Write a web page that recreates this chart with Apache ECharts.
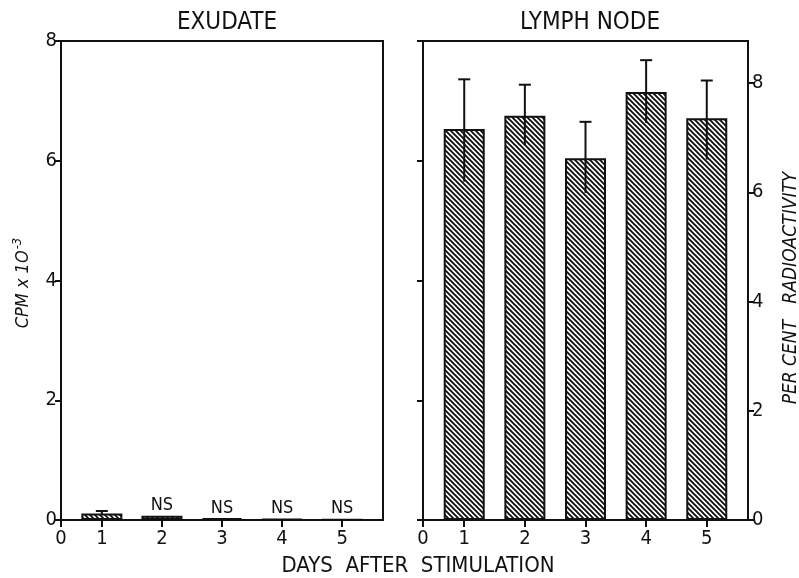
<!DOCTYPE html>
<html>
<head>
<meta charset="utf-8">
<script src="https://cdn.jsdelivr.net/npm/echarts@6/dist/echarts.min.js"></script>
<style>
  html, body { margin: 0; padding: 0; background: #fff; }
  #main { width: 799px; height: 578px; }
</style>
</head>
<body>
<div id="main"></div>
<script>
// data
var days = [1, 2, 3, 4, 5];
var exudateMean = [0.11, 0.07, 0.03, 0.015, 0.01];
var exudateLow = [0.08, null, null, null, null];
var exudateHigh = [0.15, null, null, null, null];
var exudateNote = ['', 'NS', 'NS', 'NS', 'NS'];
var lymphMean = [6.53, 6.75, 6.04, 7.15, 6.71];
var lymphLow = [5.65, 6.26, 5.46, 6.63, 6.02];
var lymphHigh = [7.36, 7.27, 6.65, 7.68, 7.34];
var pctTicks = [0, 2, 4, 6, 8];
var dayTicks = [0.32, 1, 2, 3, 4, 5];

var FONT = "'Liberation Sans Narrow', 'DejaVu Sans Condensed', 'Liberation Sans', sans-serif";

// hatch pattern (\\\\)
var hatch = document.createElement('canvas');
hatch.width = 5; hatch.height = 5;
var hc = hatch.getContext('2d');
hc.fillStyle = '#fff';
hc.fillRect(0, 0, 5, 5);
hc.strokeStyle = '#111';
hc.lineWidth = 1.9;
hc.beginPath();
hc.moveTo(-1, -1); hc.lineTo(6, 6);
hc.moveTo(-1, 4); hc.lineTo(1, 6);
hc.moveTo(4, -1); hc.lineTo(6, 1);
hc.stroke();

var myChart = echarts.init(document.getElementById('main'));

// vertical error bar with a cap on top only
function errItem(params, api) {
  var lo = api.value(1), hi = api.value(2);
  if (lo == null || isNaN(lo)) return null;
  var p1 = api.coord([api.value(0), lo]);
  var p2 = api.coord([api.value(0), hi]);
  var st = { stroke: '#111', lineWidth: 2 };
  return {
    type: 'group',
    children: [
      { type: 'line', shape: { x1: p1[0], y1: p1[1], x2: p2[0], y2: p2[1] }, style: st },
      { type: 'line', shape: { x1: p2[0] - 6, y1: p2[1], x2: p2[0] + 6, y2: p2[1] }, style: st }
    ]
  };
}

function xAxisFor(idx) {
  return {
    type: 'value', gridIndex: idx, min: 0.32, max: 5.68,
    axisLine: { show: true, onZero: false, lineStyle: { color: '#111', width: 2 } },
    axisTick: { show: true, customValues: dayTicks, length: 7, lineStyle: { color: '#111', width: 2 } },
    axisLabel: {
      customValues: dayTicks, color: '#111', fontSize: 20, fontFamily: FONT, margin: 9,
      formatter: function (v) { return v < 0.5 ? '0' : String(Math.round(v)); }
    },
    splitLine: { show: false }
  };
}

var exErr = days.map(function (d, i) { return [d, exudateLow[i], exudateHigh[i]]; })
  .filter(function (r) { return r[1] != null; });
var lyErr = days.map(function (d, i) { return [d, lymphLow[i], lymphHigh[i]]; });

var option = {
  backgroundColor: '#fff',
  animation: false,
  title: [
    { text: 'EXUDATE', left: 222, top: 6, textAlign: 'center',
      textStyle: { fontFamily: FONT, fontSize: 24, fontWeight: 'normal', color: '#111' } },
    { text: 'LYMPH NODE', left: 585, top: 6, textAlign: 'center',
      textStyle: { fontFamily: FONT, fontSize: 24, fontWeight: 'normal', color: '#111' } }
  ],
  grid: [
    { left: 61, top: 41, width: 322, height: 479, show: true, borderColor: '#111', borderWidth: 2 },
    { left: 423, top: 41, width: 325, height: 479, show: true, borderColor: '#111', borderWidth: 2 }
  ],
  xAxis: [xAxisFor(0), xAxisFor(1)],
  yAxis: [
    {
      type: 'value', gridIndex: 0, min: 0, max: 8, interval: 2,
      axisLine: { show: true, lineStyle: { color: '#111', width: 2 } },
      axisTick: { show: true, length: 6, lineStyle: { color: '#111', width: 2 } },
      axisLabel: { color: '#111', fontSize: 20, fontFamily: FONT, margin: 4 },
      splitLine: { show: false }
    },
    {
      type: 'value', gridIndex: 1, min: 0, max: 8, interval: 2,
      axisLine: { show: true, lineStyle: { color: '#111', width: 2 } },
      axisTick: { show: true, length: 6, lineStyle: { color: '#111', width: 2 } },
      axisLabel: { show: false },
      splitLine: { show: false }
    },
    {
      type: 'value', gridIndex: 1, position: 'right', min: 0, max: 8.77,
      axisLine: { show: true, lineStyle: { color: '#111', width: 2 } },
      axisTick: { show: true, customValues: pctTicks, length: 6, lineStyle: { color: '#111', width: 2 } },
      axisLabel: { customValues: pctTicks, color: '#111', fontSize: 20, fontFamily: FONT, margin: 4 },
      splitLine: { show: false }
    }
  ],
  graphic: [
    {
      type: 'text', x: 23, y: 283, rotation: Math.PI / 2,
      style: {
        text: '{a|CPM x 1O}{s|-3}', align: 'center', verticalAlign: 'middle',
        rich: {
          a: { fontFamily: FONT, fontSize: 18, fontStyle: 'italic', fill: '#111' },
          s: { fontFamily: FONT, fontSize: 13, fontStyle: 'italic', fill: '#111', padding: [0, 0, 10, 1] }
        }
      }
    },
    {
      type: 'text', x: 791, y: 288, rotation: Math.PI / 2,
      style: {
        text: 'PER CENT   RADIOACTIVITY', align: 'center', verticalAlign: 'middle',
        font: 'italic 19px ' + FONT, fill: '#111'
      }
    },
    {
      type: 'text', x: 418, y: 566,
      style: {
        text: 'DAYS  AFTER  STIMULATION', align: 'center', verticalAlign: 'middle',
        font: '22px ' + FONT, fill: '#111'
      }
    }
  ],
  series: [
    {
      name: 'Exudate', type: 'bar', xAxisIndex: 0, yAxisIndex: 0, barWidth: 41,
      data: days.map(function (d, i) { return [d, exudateMean[i]]; }),
      itemStyle: { color: { image: hatch, repeat: 'repeat' }, borderColor: '#111', borderWidth: 2 },
      label: {
        show: true, position: 'top', distance: 1, color: '#111', fontSize: 18, fontFamily: FONT,
        formatter: function (p) { return exudateNote[p.dataIndex]; }
      }
    },
    {
      name: 'Exudate error', type: 'custom', xAxisIndex: 0, yAxisIndex: 0,
      data: exErr, renderItem: errItem, z: 5
    },
    {
      name: 'Lymph node', type: 'bar', xAxisIndex: 1, yAxisIndex: 1, barWidth: 41,
      data: days.map(function (d, i) { return [d, lymphMean[i]]; }),
      itemStyle: { color: { image: hatch, repeat: 'repeat' }, borderColor: '#111', borderWidth: 2 }
    },
    {
      name: 'Lymph node error', type: 'custom', xAxisIndex: 1, yAxisIndex: 1,
      data: lyErr, renderItem: errItem, z: 5
    }
  ]
};

myChart.setOption(option);
</script>
</body>
</html>
